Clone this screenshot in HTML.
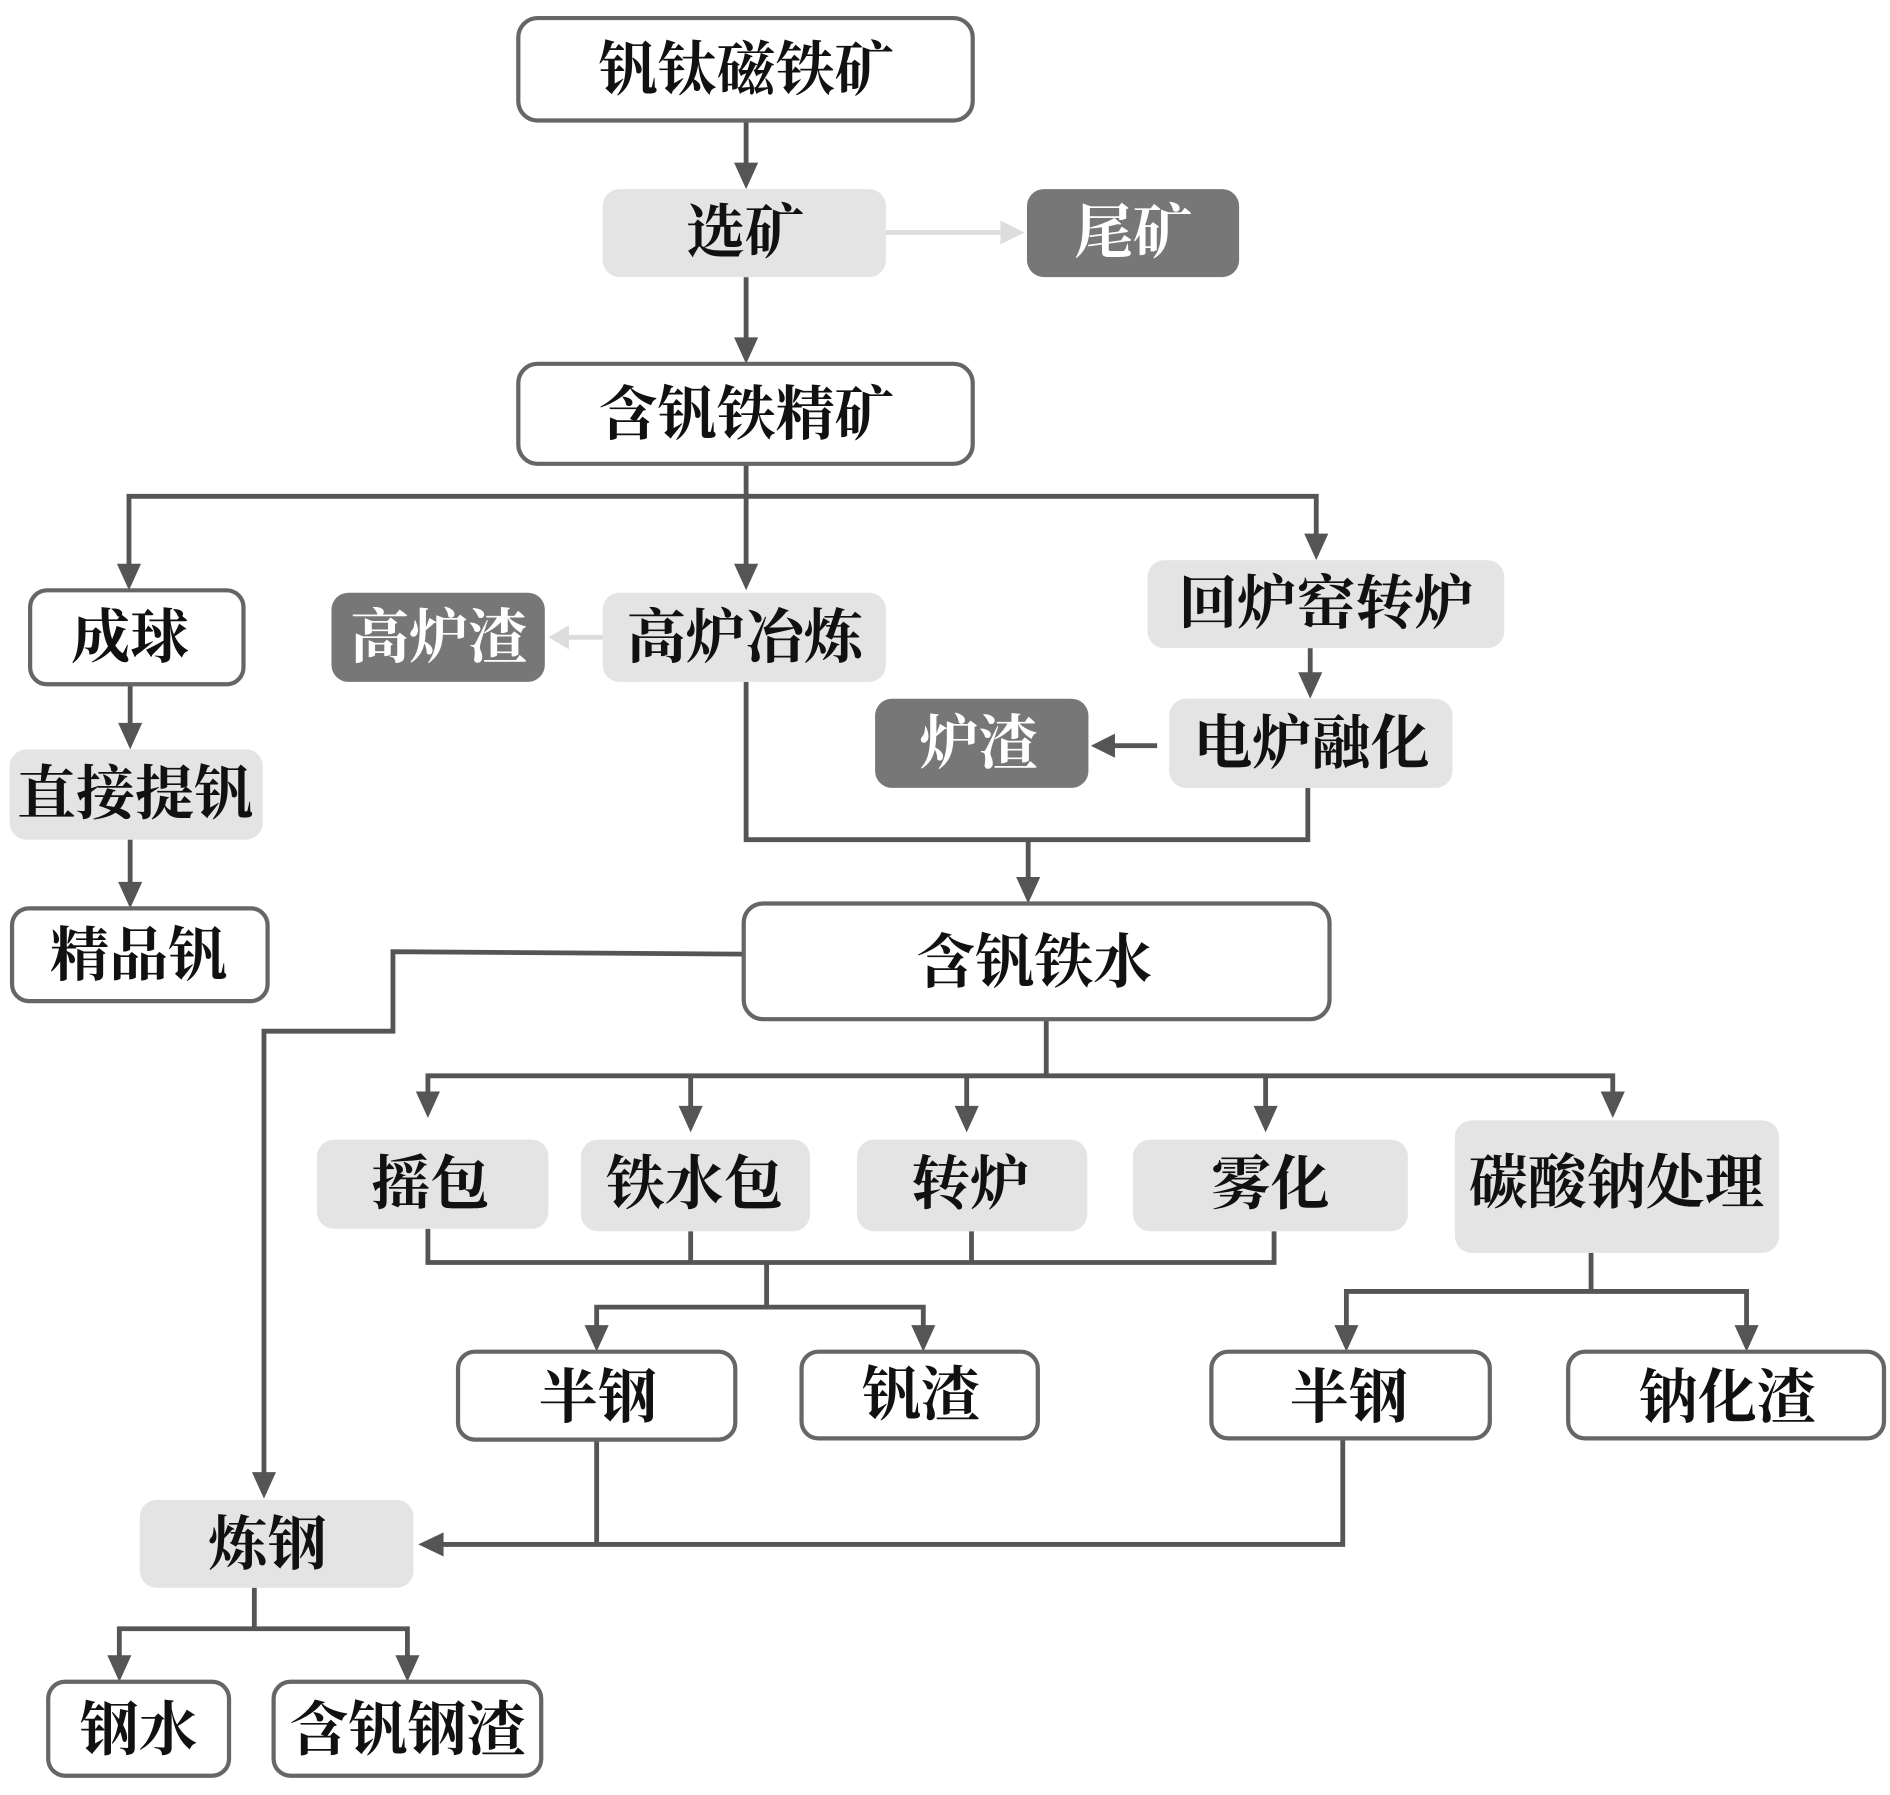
<!DOCTYPE html>
<html><head><meta charset="utf-8"><style>
html,body{margin:0;padding:0;background:#fff;}
svg{display:block;}
text{font-family:"Liberation Serif","Noto Serif CJK SC",serif;font-weight:bold;font-size:49px;text-anchor:middle;dominant-baseline:central;fill:#111;}
.w{fill:#fff;stroke:#666;stroke-width:3.5;}
.l{fill:#e4e4e4;}
.d{fill:#777;}
.dt{fill:#fff;}
.ln{stroke:#555;stroke-width:4;fill:none;}
.lg{stroke:#ddd;stroke-width:4;fill:none;}
.ah{fill:#555;}
</style></head><body>
<svg width="1890" height="1795" viewBox="0 0 1568 1490" preserveAspectRatio="none">
<g class="ln">
<path d="M619 100V140"/>
<path d="M619 230V285"/>
<path d="M619 385V412M107 475V412H1092V450M619 412V475"/>
<path d="M1087 538V565"/>
<path d="M108 568V605"/>
<path d="M108 697V737"/>
<path d="M960 619H920"/>
<path d="M619 566V697H1085V654M853 697V733"/>
<path d="M617 792L326 790V856H219V1227"/>
<path d="M868 846V893M355 915V893H1338V913M573 893V925M802 893V925M1050 893V925"/>
<path d="M355 1020V1048H1057V1022M573 1022V1048M806 1022V1048M636 1048V1085M495 1107V1085H766V1107"/>
<path d="M1320 1040V1072M1117 1107V1072H1449V1107"/>
<path d="M495 1195V1282M1114 1195V1282H365"/>
<path d="M211 1318V1352M99 1381V1352H338V1381"/>
</g>
<path class="lg" d="M735 193H830M500 529H470"/>
<polygon points="830,183 850,193 830,203" fill="#ddd"/>
<polygon points="472,519 455,529 472,539" fill="#ddd"/>
<g class="ah">
<polygon points="609,135 629,135 619,157"/>
<polygon points="609,280 629,280 619,302"/>
<polygon points="97,468 117,468 107,490"/>
<polygon points="609,468 629,468 619,490"/>
<polygon points="1082,443 1102,443 1092,465"/>
<polygon points="1077,558 1097,558 1087,580"/>
<polygon points="98,600 118,600 108,622"/>
<polygon points="98,732 118,732 108,754"/>
<polygon points="925,609 925,629 905,619"/>
<polygon points="843,728 863,728 853,750"/>
<polygon points="209,1222 229,1222 219,1244"/>
<polygon points="345,906 365,906 355,928"/>
<polygon points="563,918 583,918 573,940"/>
<polygon points="792,918 812,918 802,940"/>
<polygon points="1040,918 1060,918 1050,940"/>
<polygon points="1328,906 1348,906 1338,928"/>
<polygon points="485,1100 505,1100 495,1122"/>
<polygon points="756,1100 776,1100 766,1122"/>
<polygon points="1107,1100 1127,1100 1117,1122"/>
<polygon points="1439,1100 1459,1100 1449,1122"/>
<polygon points="368,1272 368,1292 347,1282"/>
<polygon points="89,1374 109,1374 99,1396"/>
<polygon points="328,1374 348,1374 338,1396"/>
</g>
<rect class="w" x="430" y="15" width="377" height="85" rx="16"/><text x="619" y="58">钒钛磁铁矿</text>
<rect class="l" x="500" y="157" width="235" height="73" rx="14"/><text x="618" y="193">选矿</text>
<rect class="d" x="852" y="157" width="176" height="73" rx="14"/><text class="dt" x="940" y="193">尾矿</text>
<rect class="w" x="430" y="302" width="377" height="83" rx="16"/><text x="619" y="344">含钒铁精矿</text>
<rect class="w" x="25" y="490" width="177" height="78" rx="14"/><text x="108" y="529">成球</text>
<rect class="d" x="275" y="492" width="177" height="74" rx="14"/><text class="dt" x="364" y="529">高炉渣</text>
<rect class="l" x="500" y="492" width="235" height="74" rx="14"/><text x="618" y="529">高炉冶炼</text>
<rect class="l" x="952" y="465" width="296" height="73" rx="14"/><text x="1100" y="501">回炉窑转炉</text>
<rect class="l" x="970" y="580" width="235" height="74" rx="14"/><text x="1088" y="617">电炉融化</text>
<rect class="d" x="726" y="580" width="177" height="74" rx="14"/><text class="dt" x="812" y="617">炉渣</text>
<rect class="l" x="8" y="622" width="210" height="75" rx="14"/><text x="112" y="659">直接提钒</text>
<rect class="w" x="10" y="754" width="212" height="77" rx="14"/><text x="115" y="793">精品钒</text>
<rect class="w" x="617" y="750" width="486" height="96" rx="16"/><text x="858" y="799">含钒铁水</text>
<rect class="l" x="263" y="946" width="192" height="74" rx="14"/><text x="357" y="983">摇包</text>
<rect class="l" x="482" y="946" width="190" height="76" rx="14"/><text x="576" y="983">铁水包</text>
<rect class="l" x="711" y="946" width="191" height="76" rx="14"/><text x="805" y="983">转炉</text>
<rect class="l" x="940" y="946" width="228" height="76" rx="14"/><text x="1054" y="983">雾化</text>
<rect class="l" x="1207" y="930" width="269" height="110" rx="14"/><text x="1341" y="982">碳酸钠处理</text>
<rect class="w" x="380" y="1122" width="230" height="73" rx="14"/><text x="496" y="1160">半钢</text>
<rect class="w" x="665" y="1122" width="196" height="72" rx="14"/><text x="764" y="1158">钒渣</text>
<rect class="w" x="1005" y="1122" width="231" height="72" rx="14"/><text x="1119" y="1160">半钢</text>
<rect class="w" x="1301" y="1122" width="262" height="72" rx="14"/><text x="1433" y="1160">钠化渣</text>
<rect class="l" x="116" y="1245" width="227" height="73" rx="14"/><text x="222" y="1282">炼钢</text>
<rect class="w" x="40" y="1396" width="150" height="78" rx="14"/><text x="115" y="1436">钢水</text>
<rect class="w" x="227" y="1396" width="222" height="78" rx="14"/><text x="338" y="1436">含钒钢渣</text>
</svg>
</body></html>
